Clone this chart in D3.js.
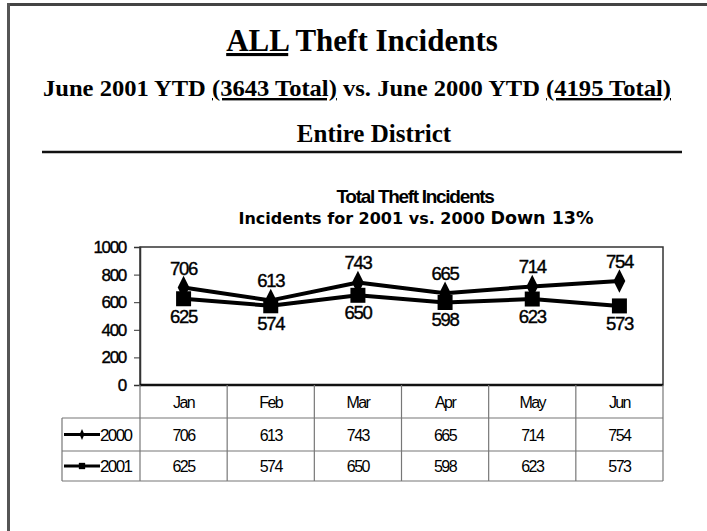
<!DOCTYPE html>
<html>
<head>
<meta charset="utf-8">
<script src="https://cdn.jsdelivr.net/npm/d3@7"></script>
<style>
  body { margin: 0; background: #fff; }
  text { fill: #000; }
</style>
</head>
<body>
<div id="chart"></div>
<script>
// chart data
var months = ["Jan", "Feb", "Mar", "Apr", "May", "Jun"];
var values2000 = [706, 613, 743, 665, 714, 754];
var values2001 = [625, 574, 650, 598, 623, 573];
var yTicks = [0, 200, 400, 600, 800, 1000];

var series = [
    {name: "2000", values: values2000, marker: "diamond", labelPos: "above"},
    {name: "2001", values: values2001, marker: "square", labelPos: "below"}
];

var W = 707, H = 531;
var svg = d3.select("#chart").append("svg").attr("width", W).attr("height", H);

var serif = "'Liberation Serif', 'Times New Roman', serif";
var sans = "'Liberation Sans', Arial, sans-serif";
var verd = "'DejaVu Sans', Verdana, sans-serif";

// page frame
svg.append("line").attr("x1", 7).attr("x2", W).attr("y1", 4.5).attr("y2", 4.5)
    .attr("stroke", "#444").attr("stroke-width", 3);
svg.append("line").attr("x1", 8.5).attr("x2", 8.5).attr("y1", 3).attr("y2", H)
    .attr("stroke", "#555").attr("stroke-width", 3);

// page headings
var title = svg.append("text").attr("x", 362).attr("y", 51).attr("text-anchor", "middle")
    .style("font-family", serif).style("font-weight", "bold").style("font-size", "31px");
title.append("tspan").style("text-decoration", "underline").text("ALL");
title.append("tspan").text(" Theft Incidents");

var sub = svg.append("text").attr("x", 357).attr("y", 96).attr("text-anchor", "middle")
    .attr("textLength", 628).attr("lengthAdjust", "spacingAndGlyphs")
    .style("font-family", serif).style("font-weight", "bold").style("font-size", "24px");
sub.append("tspan").text("June 2001 YTD ");
sub.append("tspan").style("text-decoration", "underline").text("(3643 Total)");
sub.append("tspan").text(" vs. June 2000 YTD ");
sub.append("tspan").style("text-decoration", "underline").text("(4195 Total)");

svg.append("text").attr("x", 374).attr("y", 142).attr("text-anchor", "middle")
    .style("font-family", serif).style("font-weight", "bold").style("font-size", "25px")
    .text("Entire District");

svg.append("line").attr("x1", 42).attr("x2", 682).attr("y1", 152).attr("y2", 152)
    .attr("stroke", "#111").attr("stroke-width", 2.5);

// chart titles
svg.append("text").attr("x", 415).attr("y", 203).attr("text-anchor", "middle")
    .style("font-family", sans).style("font-weight", "bold").style("font-size", "19px")
    .style("letter-spacing", "-1.3px")
    .text("Total Theft Incidents");

var ct2 = svg.append("text").attr("x", 416).attr("y", 224).attr("text-anchor", "middle")
    .style("font-family", verd).style("font-weight", "bold").style("font-size", "16px");
ct2.append("tspan").text("Incidents for 2001 vs. 2000 ");
ct2.append("tspan").style("font-size", "17.5px").text("Down 13%");

// scales
var plotL = 140, plotR = 663, plotT = 247, plotB = 385;
var x = d3.scaleBand().domain(months).range([plotL, plotR]);
var y = d3.scaleLinear().domain([0, 1000]).range([plotB, plotT]);

// plot frame
svg.append("rect").attr("x", plotL).attr("y", plotT)
    .attr("width", plotR - plotL).attr("height", plotB - plotT)
    .attr("fill", "none").attr("stroke", "#333").attr("stroke-width", 1.5);

// y axis
var yAxis = svg.append("g").attr("transform", "translate(" + plotL + ",0)")
    .call(d3.axisLeft(y).tickValues(yTicks).tickSize(6).tickPadding(8).tickFormat(d3.format("d")));
yAxis.select(".domain").attr("stroke", "#333").attr("stroke-width", 1.5);
yAxis.selectAll(".tick line").attr("stroke", "#333");
yAxis.selectAll("text").style("font-family", sans).style("font-size", "17px")
    .style("letter-spacing", "-1.3px").attr("fill", "#000")
    .attr("stroke", "#000").attr("stroke-width", 0.4);

// baseline
svg.append("line").attr("x1", plotL).attr("x2", plotR).attr("y1", plotB).attr("y2", plotB)
    .attr("stroke", "#111").attr("stroke-width", 2.5);

// lines + markers
var line = d3.line()
    .x(function(d, i) { return x(months[i]) + x.bandwidth() / 2; })
    .y(function(d) { return y(d); });

var symbolFor = {
    diamond: d3.symbol().type(d3.symbolDiamond).size(120),
    square: d3.symbol().type(d3.symbolSquare).size(225)
};

series.forEach(function(s) {
    svg.append("path").datum(s.values).attr("d", line)
        .attr("fill", "none").attr("stroke", "#000").attr("stroke-width", 4)
        .attr("stroke-linejoin", "round");

    svg.selectAll(".m" + s.name).data(s.values).enter().append("path")
        .attr("transform", function(d, i) {
            return "translate(" + (x(months[i]) + x.bandwidth() / 2) + "," + y(d) + ")" +
                (s.marker === "diamond" ? " scale(1,1.15)" : "");
        })
        .attr("d", symbolFor[s.marker]).attr("fill", "#000");

    svg.selectAll(".l" + s.name).data(s.values).enter().append("text")
        .attr("x", function(d, i) { return x(months[i]) + x.bandwidth() / 2; })
        .attr("y", function(d) { return s.labelPos === "above" ? y(d) - 13 : y(d) + 24; })
        .attr("text-anchor", "middle")
        .style("font-family", sans).style("font-size", "18.5px").style("letter-spacing", "-1.3px")
        .attr("stroke", "#000").attr("stroke-width", 0.4)
        .text(function(d) { return d; });
});

// data table
var rowTop = [385, 418, 451], rowBot = 481, legL = 62;
var gridColor = "#777";

var tbl = svg.append("g");
// horizontal lines
[rowTop[1], rowTop[2], rowBot].forEach(function(yy) {
    tbl.append("line").attr("x1", legL).attr("x2", plotR).attr("y1", yy).attr("y2", yy)
        .attr("stroke", gridColor).attr("stroke-width", 1.2);
});
// vertical lines
tbl.append("line").attr("x1", legL).attr("x2", legL).attr("y1", rowTop[1]).attr("y2", rowBot)
    .attr("stroke", gridColor).attr("stroke-width", 1.2);
months.forEach(function(m) {
    tbl.append("line").attr("x1", x(m)).attr("x2", x(m)).attr("y1", rowTop[0]).attr("y2", rowBot)
        .attr("stroke", gridColor).attr("stroke-width", 1.2);
});
tbl.append("line").attr("x1", plotR).attr("x2", plotR).attr("y1", rowTop[0]).attr("y2", rowBot)
    .attr("stroke", gridColor).attr("stroke-width", 1.2);

// header
tbl.selectAll(".hdr").data(months).enter().append("text")
    .attr("x", function(d) { return x(d) + x.bandwidth() / 2; })
    .attr("y", (rowTop[0] + rowTop[1]) / 2 + 6)
    .attr("text-anchor", "middle")
    .style("font-family", sans).style("font-size", "16px").style("letter-spacing", "-1.6px")
    .text(function(d) { return d; });

series.forEach(function(s, r) {
    var top = rowTop[r + 1], bot = r + 2 < rowTop.length ? rowTop[r + 2] : rowBot;
    var cy = (top + bot) / 2;
    tbl.selectAll(".v" + s.name).data(s.values).enter().append("text")
        .attr("x", function(d, i) { return x(months[i]) + x.bandwidth() / 2; })
        .attr("y", cy + 6)
        .attr("text-anchor", "middle")
        .style("font-family", sans).style("font-size", "16px").style("letter-spacing", "-1.5px")
        .text(function(d) { return d; });

    // legend key
    tbl.append("line").attr("x1", 64).attr("x2", 100).attr("y1", cy).attr("y2", cy)
        .attr("stroke", "#000").attr("stroke-width", 3);
    tbl.append("path")
        .attr("transform", "translate(82," + cy + ")" + (s.marker === "diamond" ? " scale(1,1.3)" : ""))
        .attr("d", d3.symbol().type(s.marker === "diamond" ? d3.symbolDiamond : d3.symbolSquare)
            .size(s.marker === "diamond" ? 20 : 40))
        .attr("fill", "#000");
    tbl.append("text").attr("x", 100).attr("y", cy + 6)
        .style("font-family", sans).style("font-size", "17px").style("letter-spacing", "-1.6px")
        .text(s.name);
});
</script>
</body>
</html>
